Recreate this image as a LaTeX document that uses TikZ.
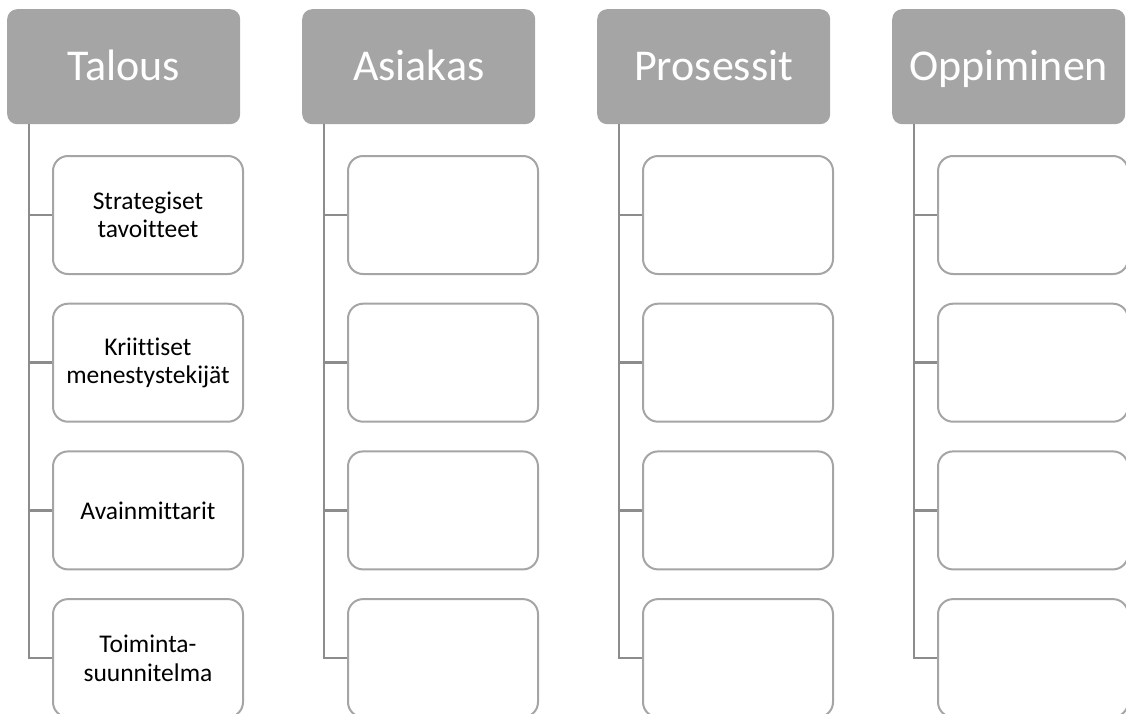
\documentclass[tikz,border=0pt]{standalone}
\usepackage{fontspec}
\setmainfont[Ligatures=NoCommon]{Carlito}
\definecolor{hdr}{HTML}{A5A5A5}
\definecolor{conn}{HTML}{8C8C8C}
\begin{document}
\begin{tikzpicture}[x=1pt,y=-1pt,
  header/.style={draw=none, fill=hdr, rounded corners=10pt, minimum width=233pt, minimum height=115pt,
    text=white, font=\fontsize{44}{50}\selectfont, inner sep=0pt, text height=31pt, text depth=4pt, anchor=north west},
  child/.style={draw=hdr, line width=2pt, fill=white, rounded corners=15pt, minimum width=190pt, minimum height=118pt,
    anchor=north west},
  childtext/.style={font=\fontsize{25.5}{28.5}\selectfont, align=center, text=black, inner sep=0pt},
  connline/.style={draw=conn, line width=2.5pt}]
\useasboundingbox (0,0) rectangle (1126,713);
\foreach \i/\t in {1/Talous,2/Asiakas,3/Prosessit,4/Oppiminen}{
  \pgfmathsetmacro{\hx}{7+295*(\i-1)}
  \node[header] (h\i) at (\hx,9) {\t};
  \coordinate (v\i) at (\hx+22,124);
  \foreach \j in {1,2,3,4}{
    \pgfmathsetmacro{\cy}{155+147.7*(\j-1)}
    \node[child] (c\i\j) at (\hx+45,\cy) {};
  }
  \draw[connline] (v\i) |- (c\i4.west);
  \foreach \j in {1,2,3}{
    \draw[connline] (c\i\j.west -| v\i) -- (c\i\j.west);
  }
}
\node[childtext] (t1) at (c11.center) {Strategiset\\tavoitteet};
\node[childtext] (t2) at (c12.center) {Kriittiset\\menestystekijät};
\node[childtext] (t3) at (c13.center) {Avainmittarit};
\node[childtext] (t4) at (c14.center) {Toiminta-\\suunnitelma};
\end{tikzpicture}
\end{document}
